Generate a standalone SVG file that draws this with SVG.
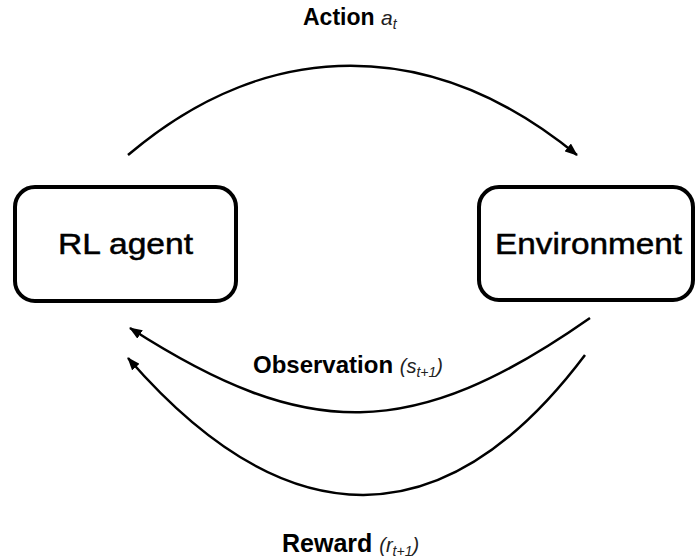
<svg xmlns="http://www.w3.org/2000/svg" width="697" height="559" viewBox="0 0 697 559">
  <style>
    .box { fill: #ffffff; stroke: #000000; stroke-width: 4; }
    .node-text { font-family: "Liberation Sans", Arial, Helvetica, sans-serif; font-size: 30px; fill: #000000; stroke: #000000; stroke-width: 0.5; text-anchor: middle; }
    .label { font-family: "Liberation Sans", Arial, Helvetica, sans-serif; font-weight: bold; fill: #000000; }
    .math { font-weight: normal; font-style: italic; fill: #222222; }
    .conn { fill: none; stroke: #000000; stroke-width: 2.5; marker-end: url(#arrow); }
  </style>
  <defs>
    <marker id="arrow" viewBox="0 0 13 10" refX="12" refY="5" markerWidth="13" markerHeight="10" markerUnits="userSpaceOnUse" orient="auto">
      <path d="M0,0 L13,5 L0,10 z" fill="#000000"/>
    </marker>
  </defs>
  <rect width="697" height="559" fill="#ffffff"/>

  <g id="agent">
    <rect class="box" x="15" y="187" width="221" height="114" rx="20" ry="20"/>
    <text class="node-text" x="125.5" y="254" textLength="135" lengthAdjust="spacingAndGlyphs">RL agent</text>
  </g>

  <g id="environment">
    <rect class="box" x="479" y="187" width="214" height="113" rx="20" ry="20"/>
    <text class="node-text" x="588.5" y="254" textLength="187" lengthAdjust="spacingAndGlyphs">Environment</text>
  </g>

  <g id="connectors">
    <path id="action" class="conn" d="M128,155 C268,36 432,36 577,155"/>
    <path id="observation" class="conn" d="M590,318 C413,442 307,442 130,328"/>
    <path id="reward" class="conn" d="M585,355 C445,541 287,541 128,358"/>
  </g>

  <g id="labels">
    <text class="label" x="303" y="25" font-size="23">Action <tspan class="math" font-size="21">a</tspan><tspan class="math" font-size="14" dy="4">t</tspan></text>
    <text class="label" x="253" y="373" font-size="24">Observation <tspan class="math" font-size="20">(s</tspan><tspan class="math" font-size="14" dy="4">t+1</tspan><tspan class="math" font-size="20" dy="-4">)</tspan></text>
    <text class="label" x="282" y="552" font-size="25">Reward <tspan class="math" font-size="20">(r</tspan><tspan class="math" font-size="14" dy="4">t+1</tspan><tspan class="math" font-size="20" dy="-4">)</tspan></text>
  </g>
</svg>
